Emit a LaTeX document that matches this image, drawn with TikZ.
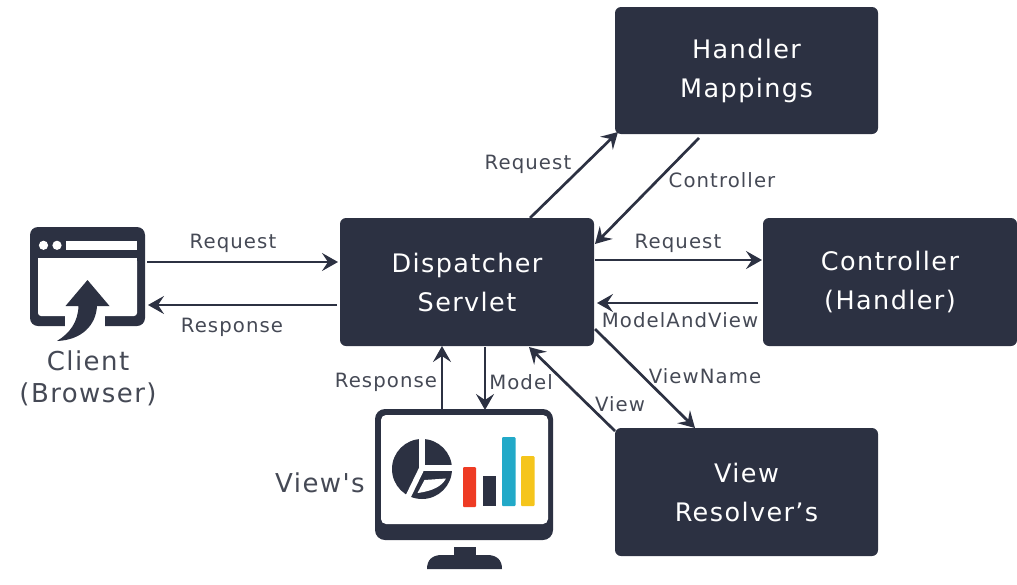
\documentclass[tikz,border=0pt]{standalone}
\usepackage{fontspec}
\setmainfont[LetterSpace=5.5]{DejaVu Sans}
\newfontfamily\plainquote[LetterSpace=5.5]{DejaVu Sans}
\usetikzlibrary{arrows.meta}
\definecolor{boxdark}{HTML}{2C3142}
\definecolor{labelgray}{HTML}{454955}
\definecolor{barred}{HTML}{EE3B24}
\definecolor{barblue}{HTML}{22A9C8}
\definecolor{baryellow}{HTML}{F5C51C}
\tikzset{
  darkbox/.style={fill=boxdark,rounded corners=6pt,inner sep=0pt,align=center,text=white,font=\fontsize{25.5}{39}\selectfont,minimum width=#1},
  darkbox/.default=254pt,
  arrowline/.style={draw=boxdark,line width=2.7pt,-{Stealth[length=16pt,width=18pt,inset=6pt]}},
  lbl/.style={text=labelgray,font=\fontsize{19.7}{22}\selectfont,inner sep=0pt},
  biglbl/.style={text=labelgray,font=\fontsize{26}{32}\selectfont,inner sep=0pt,align=center}
}
\begin{document}
\begin{tikzpicture}[x=1pt,y=-1pt]
\useasboundingbox (0,0) rectangle (1017,584);
% boxes
\node[darkbox=263pt,minimum height=127pt] (hm) at (746.5,70.5) {Handler\\Mappings};
\node[darkbox=254pt,minimum height=128pt] (ds) at (467,282) {Dispatcher\\Servlet};
\node[darkbox=254pt,minimum height=128pt] (ch) at (890,282) {Controller\\(Handler)};
\node[darkbox=263pt,minimum height=128pt] (vr) at (746.5,492) {View\\Resolver’s};
% client icon
\node[minimum width=115pt,minimum height=99pt,inner sep=0pt] (client) at (87.5,276.5) {};
\fill[boxdark,rounded corners=8pt] (30,227) rectangle (145,326);
\fill[white,rounded corners=3pt] (38,258) rectangle (137,316);
\fill[white] (38,258) rectangle (137,270);
\fill[white] (65,314) rectangle (105,327);
\fill[white] (66,241) rectangle (137,249.5);
\fill[white] (43.5,245.3) circle (4.6pt) (57,245.3) circle (4.6pt);
\fill[boxdark] (87.5,280) -- (109.5,306) -- (97,306)
  .. controls (96,325) and (82,340) .. (57,341)
  .. controls (70,333) and (78,322) .. (78.5,306) -- (65.5,306) -- cycle;
% monitor
\node[minimum width=178pt,minimum height=131pt,inner sep=0pt] (mon) at (464,474.5) {};
\fill[boxdark,rounded corners=10pt] (375,409) rectangle (553,540);
\fill[white,rounded corners=5pt] (381,415) rectangle (548,524);
\fill[boxdark] (454,547) rectangle (476,557);
\fill[boxdark] (427,569) .. controls (427,560) and (432,555) .. (442,555) -- (487,555)
  .. controls (497,555) and (502,560) .. (502,569) -- cycle;
% pie
\fill[boxdark] (422,469) circle (30pt);
\draw[white,line width=6pt] (422,435) -- (422,468) -- (458,468);
\draw[white,line width=5.5pt,line cap=round] (422,468) -- (405,503);
\fill[white] (417.5,493) -- (424.5,480) -- (446,478.5) .. controls (442,486) and (433,491) .. (417.5,493) -- cycle;
% bars
\fill[barred,rounded corners=1pt] (463,467) rectangle (476,507);
\fill[boxdark] (483,476) rectangle (495.5,506);
\fill[barblue,rounded corners=1pt] (502,437) rectangle (515.5,506);
\fill[baryellow,rounded corners=1pt] (521,456) rectangle (534.5,506);
% connector ends
\coordinate (c1) at (147,262); \coordinate (d1) at (338,262);
\coordinate (d2) at (337,305); \coordinate (c2) at (148,305);
\coordinate (d3) at (530,218); \coordinate (h1) at (618,132);
\coordinate (h2) at (699,138); \coordinate (d4) at (595,244);
\coordinate (d5) at (595,260); \coordinate (k1) at (762,260);
\coordinate (k2) at (758,303); \coordinate (d6) at (597,303);
\coordinate (d7) at (595,329); \coordinate (r1) at (695,428);
\coordinate (r2) at (615,431); \coordinate (d8) at (529,347);
\coordinate (m1) at (442,409); \coordinate (d9) at (442,346);
\coordinate (d10) at (485,347); \coordinate (m2) at (485,410);
% connectors
\draw[arrowline] (c1) -- (d1);
\draw[arrowline] (d2) -- (c2);
\draw[arrowline] (d3) -- (h1);
\draw[arrowline] (h2) -- (d4);
\draw[arrowline] (d5) -- (k1);
\draw[arrowline] (k2) -- (d6);
\draw[arrowline] (d7) -- (r1);
\draw[arrowline] (r2) -- (d8);
\draw[arrowline] (m1) -- (d9);
\draw[arrowline] (d10) -- (m2);
% labels
\node[lbl] (l1) at (233,243) {Request};
\node[lbl] (l2) at (232,327) {Response};
\node[lbl] (l3) at (528,164) {Request};
\node[lbl] (l4) at (722,180) {Controller};
\node[lbl] (l5) at (678,243) {Request};
\node[lbl] (l6) at (680,320) {ModelAndView};
\node[lbl] (l7) at (705,376) {ViewName};
\node[lbl] (l8) at (620,404) {View};
\node[lbl] (l9) at (386,382) {Response};
\node[lbl] (l10) at (521,382) {Model};
\node[biglbl] (l11) at (88,378) {Client\\(Browser)};
\node[biglbl] (l12) at (320,483) {\plainquote View's};
\end{tikzpicture}
\end{document}
